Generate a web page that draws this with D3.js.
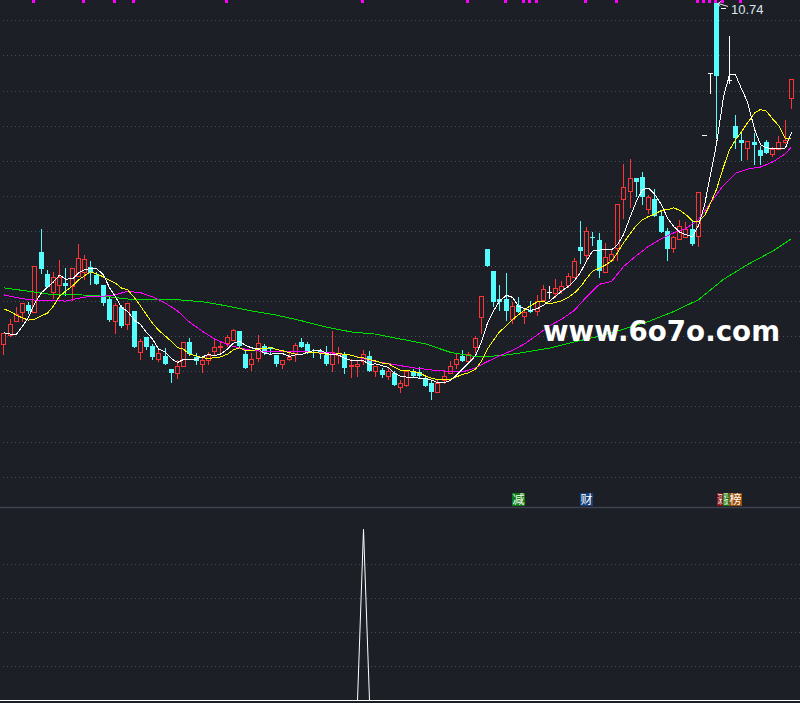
<!DOCTYPE html>
<html><head><meta charset="utf-8">
<script src="https://cdn.jsdelivr.net/npm/d3@7"></script>
<style>html,body{margin:0;padding:0;background:#1c1f26;overflow:hidden}</style>
</head><body><svg id="c" width="800" height="703"></svg>
<script>
// ---------------- data ----------------
const opens = [
5.89,6.02,6.21,6.35,6.44,6.34,7.20,6.89,6.63,6.73,
6.76,6.72,6.86,6.91,6.99,6.87,6.73,6.53,6.21,6.42,
6.17,6.36,5.77,5.99,5.86,5.68,5.72,5.53,5.47,5.57,
5.92,5.70,5.61,5.66,5.79,5.84,5.90,5.94,6.07,5.74,
5.61,5.69,5.86,5.84,5.73,5.60,5.67,5.76,5.92,5.89,
5.78,5.79,5.73,5.60,5.73,5.73,5.57,5.57,5.65,5.72,
5.51,5.52,5.44,5.48,5.28,5.30,5.50,5.49,5.40,5.34,
5.20,5.38,5.48,5.60,5.72,5.64,5.85,6.28,7.24,6.93,
6.53,6.53,6.24,6.44,6.29,6.38,6.36,6.52,6.63,6.62,
6.66,6.73,6.85,7.27,7.16,7.42,7.37,6.92,7.09,7.26,
7.96,8.07,8.25,8.27,7.81,7.95,7.71,7.50,7.25,7.38,
7.41,7.53,7.43,8.86,9.75,10.74,10.68,9.65,8.99,8.80,
8.68,8.76,8.65,8.77,8.60,8.67,8.77,9.40];
const highs = [
6.05,6.25,6.41,6.47,6.49,7.00,7.53,6.94,6.91,7.08,
6.97,6.97,7.31,7.16,7.07,6.92,6.73,6.59,6.47,6.44,
6.48,6.36,5.96,5.99,5.89,5.82,5.83,5.53,5.66,5.92,
5.97,5.76,5.72,5.77,5.94,5.92,6.02,6.10,6.07,5.82,
5.76,6.02,5.89,5.84,5.73,5.66,5.78,5.91,5.97,5.92,
5.82,5.82,5.86,6.07,5.84,5.78,5.67,5.65,5.80,5.79,
5.58,5.54,5.54,5.50,5.38,5.51,5.53,5.56,5.45,5.38,
5.39,5.51,5.65,5.74,5.80,5.77,6.00,6.57,7.24,6.93,
6.73,6.90,6.49,6.56,6.39,6.50,6.59,6.73,6.71,6.81,
6.78,6.90,7.11,7.64,7.56,7.48,7.47,7.33,7.24,7.88,
8.45,8.52,8.25,8.34,8.01,8.10,7.80,7.54,7.43,7.65,
7.62,7.64,8.05,8.86,9.75,10.74,10.68,10.28,9.15,8.89,
8.78,8.89,8.71,8.80,8.70,8.85,9.08,9.67];
const lows = [
5.74,6.00,6.21,6.22,6.33,6.34,6.90,6.70,6.55,6.56,
6.59,6.51,6.86,6.81,6.75,6.75,6.44,6.21,6.05,6.13,
6.10,5.84,5.68,5.82,5.67,5.64,5.60,5.35,5.40,5.57,
5.73,5.61,5.49,5.61,5.73,5.78,5.86,5.94,5.86,5.55,
5.52,5.65,5.75,5.75,5.58,5.55,5.66,5.65,5.85,5.76,
5.70,5.69,5.59,5.51,5.62,5.48,5.42,5.43,5.60,5.51,
5.44,5.42,5.39,5.30,5.21,5.29,5.42,5.40,5.29,5.11,
5.20,5.34,5.48,5.54,5.65,5.64,5.78,6.04,7.00,6.43,
6.37,6.23,6.19,6.35,6.19,6.35,6.30,6.52,6.55,6.56,
6.61,6.70,6.85,7.04,7.10,7.30,6.85,6.92,7.09,7.09,
7.68,7.84,8.00,7.89,7.75,7.71,7.49,7.09,7.20,7.38,
7.41,7.30,7.28,8.86,9.47,8.83,10.68,9.61,8.68,8.51,
8.52,8.45,8.46,8.61,8.56,8.67,8.75,9.25];
const closes = [
6.04,6.18,6.31,6.47,6.36,7.00,6.96,6.70,6.85,6.84,
6.72,6.97,7.12,7.10,6.90,6.75,6.48,6.23,6.44,6.15,
6.48,5.84,5.93,5.85,5.71,5.76,5.60,5.48,5.58,5.92,
5.74,5.64,5.66,5.73,5.84,5.86,5.99,6.09,5.86,5.55,
5.68,5.91,5.76,5.82,5.61,5.66,5.71,5.87,5.85,5.78,
5.76,5.76,5.61,5.77,5.76,5.54,5.59,5.61,5.74,5.51,
5.58,5.45,5.50,5.30,5.33,5.51,5.43,5.43,5.29,5.21,
5.34,5.44,5.57,5.67,5.65,5.75,5.97,6.57,7.00,6.49,
6.49,6.36,6.43,6.35,6.34,6.35,6.50,6.67,6.63,6.69,
6.71,6.86,7.07,7.22,7.50,7.41,6.93,7.13,7.17,7.88,
8.12,8.26,8.19,7.99,7.98,7.71,7.49,7.24,7.41,7.57,
7.53,7.32,8.05,8.86,9.75,9.71,10.68,9.65,8.83,8.75,
8.78,8.73,8.56,8.61,8.67,8.77,8.80,9.67];

// MA values before enough closes are visible
const ma5Head  = [6.05,6.03,6.03,6.14];
const ma10Head = [6.39,6.35,6.30,6.26,6.23,6.24,6.29,6.33,6.43];

// magenta average line
const ma20Index = [0,2,4,6,8,10,12,14,16,18,20,22,24,26,28,30,32,34,36,38,40,42,44,46,48,50,52,54,56,58,60,62,64,66,68,70,72,74,76,78,80,82,84,86,88,90,92,94,96,98,100,102,104,106,108,110,112,114,116,118,120,122,124,126,127];
const ma20Values = [6.59,6.55,6.52,6.51,6.51,6.50,6.54,6.57,6.57,6.59,6.64,6.62,6.56,6.47,6.36,6.20,6.07,5.96,5.88,5.83,5.80,5.78,5.78,5.78,5.78,5.77,5.77,5.75,5.73,5.68,5.64,5.61,5.58,5.55,5.53,5.51,5.50,5.49,5.55,5.64,5.72,5.80,5.89,6.02,6.15,6.24,6.37,6.56,6.74,6.78,6.99,7.15,7.28,7.39,7.47,7.53,7.66,7.90,8.15,8.32,8.38,8.41,8.48,8.60,8.70];

// green long average line
const ma60Index = [0,4,8,12,16,20,24,28,32,36,40,44,48,52,56,60,64,68,72,76,80,84,88,92,96,100,104,108,112,116,120,124,127];
const ma60Values = [6.69,6.64,6.59,6.59,6.57,6.53,6.52,6.52,6.49,6.43,6.36,6.30,6.22,6.13,6.06,6.03,5.96,5.89,5.77,5.71,5.72,5.77,5.83,5.92,6.00,6.10,6.21,6.35,6.52,6.81,7.02,7.21,7.39];

// grid prices
const gridPrices = [10.5,10,9.5,9,8.5,8,7.5,7,6.5,6,5.5,5,4.5,4];
const lowerGrid = [20,40,60,80];

// top signal marks (candle indices)
const topMarks = [5,13,18,21,36,58,75,81,84,85,86,94,99,112,113,114,115,116,119];

// lower indicator
const lowerValues = [
0,0,0,0,0,0,0,0,0,0,0,0,0,0,0,0,
0,0,0,0,0,0,0,0,0,0,0,0,0,0,0,0,
0,0,0,0,0,0,0,0,0,0,0,0,0,0,0,0,
0,0,0,0,0,0,0,0,0,0,100,0,0,0,0,0,
0,0,0,0,0,0,0,0,0,0,0,0,0,0,0,0,
0,0,0,0,0,0,0,0,0,0,0,0,0,0,0,0,
0,0,0,0,0,0,0,0,0,0,0,0,0,0,0,0,
0,0,0,0,0,0,0,0,0,0,0,0,0,0,0,0];

// bottom text signals
const signalIdx   = [83, 94, 116, 117, 118];
const signalText  = ["减","财","深","股","榜"];
const signalColor = ["#0b7a12","#143f78","#8a0c0c","#0b7a12","#9a4e0c"];

const maxLabel = "10.74";

// ---------------- drawing ----------------
const W = 800, H = 703;
const svg = d3.select("#c");
svg.append("rect").attr("width", W).attr("height", H).attr("fill", "#1c1f26");

const n = closes.length;
const x = d3.scaleBand().domain(d3.range(n)).range([0.2, 0.2 + n * 6.2]).padding(0);
const cx = i => Math.round(x(i) + x.bandwidth() / 2);
const y = d3.scaleLinear().domain([4, 10.5]).range([476.6, 20.3]);
const y2 = d3.scaleLinear().domain([0, 100]).range([700.5, 529.3]);

const RED = "#ff3434", CYAN = "#54fcfc", WHITE = "#ffffff";

// grid
const grid = svg.append("g").attr("stroke", "#4a4f5b").attr("stroke-dasharray", "1,3");
gridPrices.forEach(p => {
  const yy = Math.round(y(p)) + 0.5;
  grid.append("line").attr("x1", 3).attr("x2", W).attr("y1", yy).attr("y2", yy);
});
lowerGrid.forEach(v => {
  const yy = Math.round(y2(v)) + 0.5;
  grid.append("line").attr("x1", 3).attr("x2", W).attr("y1", yy).attr("y2", yy);
});
svg.append("line").attr("x1", 0).attr("x2", W).attr("y1", 507.5).attr("y2", 507.5)
  .attr("stroke", "#3d424e").attr("stroke-width", 1.5);

// candles
const cg = svg.append("g").attr("shape-rendering", "crispEdges");
for (let i = 0; i < n; i++) {
  const o = opens[i], c = closes[i], h = highs[i], l = lows[i];
  const xc = cx(i);
  const yh = Math.round(y(h)), yl = Math.round(y(l));
  const yt = Math.round(y(Math.max(o, c))), yb = Math.round(y(Math.min(o, c)));
  if (c > o) {
    if (yh < yt) cg.append("line").attr("x1", xc + 0.5).attr("x2", xc + 0.5).attr("y1", yh).attr("y2", yt).attr("stroke", RED);
    if (yl > yb) cg.append("line").attr("x1", xc + 0.5).attr("x2", xc + 0.5).attr("y1", yb).attr("y2", yl + 1).attr("stroke", RED);
    cg.append("rect").attr("x", xc - 1.5).attr("y", yt + 0.5).attr("width", 4).attr("height", Math.max(1, yb - yt))
      .attr("fill", "#1c1f26").attr("stroke", RED);
  } else if (c < o) {
    cg.append("line").attr("x1", xc + 0.5).attr("x2", xc + 0.5).attr("y1", yh).attr("y2", yl + 1).attr("stroke", CYAN);
    cg.append("rect").attr("x", xc - 2).attr("y", yt).attr("width", 5).attr("height", Math.max(1, yb - yt)).attr("fill", CYAN);
  } else {
    cg.append("line").attr("x1", xc + 0.5).attr("x2", xc + 0.5).attr("y1", yh).attr("y2", yl + 1).attr("stroke", WHITE);
    cg.append("line").attr("x1", xc - 2).attr("x2", xc + 3).attr("y1", yt + 0.5).attr("y2", yt + 0.5).attr("stroke", WHITE);
  }
}

// moving averages
function movingAvg(arr, k, head) {
  return arr.map((_, i) => i < k - 1 ? head[i] : d3.mean(arr.slice(i - k + 1, i + 1)));
}
const ma5 = movingAvg(closes, 5, ma5Head);
const ma10 = movingAvg(closes, 10, ma10Head);

const line = d3.line().x(d => cx(d[0]) + 0.5).y(d => y(d[1]));
const mg = svg.append("g").attr("fill", "none").attr("stroke-width", 1).attr("shape-rendering", "crispEdges");
mg.append("path").attr("d", line(ma60Index.map((k, j) => [k, ma60Values[j]]))).attr("stroke", "#00e000");
mg.append("path").attr("d", line(ma20Index.map((k, j) => [k, ma20Values[j]]))).attr("stroke", "#ff00ff");
mg.append("path").attr("d", line(ma10.map((v, i) => [i, v]))).attr("stroke", "#ffff00");
mg.append("path").attr("d", line(ma5.map((v, i) => [i, v]))).attr("stroke", "#ffffff");

// top marks
svg.append("g").selectAll("rect").data(topMarks).join("rect")
  .attr("x", d => cx(d) - 2).attr("y", 0).attr("width", 3).attr("height", 3).attr("fill", "#ff00ff");

// max label with arrow
const iMax = d3.maxIndex(highs);
const mxX = cx(iMax), mxY = y(highs[iMax]);
svg.append("path")
  .attr("d", `M${mxX + 12},${mxY + 3} L${mxX + 2},${mxY} M${mxX + 2},${mxY} L${mxX + 5},${mxY - 2} M${mxX + 2},${mxY} L${mxX + 4},${mxY + 3}`)
  .attr("stroke", "#e8e8e8").attr("fill", "none");
svg.append("text").attr("x", mxX + 15).attr("y", mxY + 11).text(maxLabel)
  .attr("fill", "#dfe3ea").attr("font-family", "Liberation Sans, Arial, sans-serif").attr("font-size", 13);

// watermark
svg.append("text").attr("x", 543).attr("y", 341).text("www.6o7o.com")
  .attr("fill", "#ffffff").attr("font-family", "DejaVu Sans").attr("font-weight", "bold")
  .attr("font-size", 28).attr("textLength", 237).attr("lengthAdjust", "spacingAndGlyphs");

// signal labels (later ones cover part of earlier ones, as in the source)
const sg = svg.append("g");
signalIdx.forEach((k, j) => {
  const xx = cx(k) - 6;
  const nextX = (j + 1 < signalIdx.length) ? cx(signalIdx[j + 1]) - 6 : Infinity;
  const visW = Math.min(13, nextX - xx);
  sg.append("rect").attr("x", xx).attr("y", 493).attr("width", visW).attr("height", 13).attr("fill", signalColor[j]);
  const t = sg.append("text").text(signalText[j])
    .attr("fill", "#ffffff").attr("font-family", "Noto Sans CJK SC").attr("font-size", 12);
  if (visW < 13) {
    // only a narrow strip of this label stays visible: squeeze the glyph into it
    t.attr("x", 0).attr("y", 0)
     .attr("transform", `translate(${xx + 0.5},504) scale(${((visW - 1) / 12).toFixed(3)},1)`);
  } else {
    t.attr("x", xx + 6.5).attr("y", 504).attr("text-anchor", "middle");
  }
});

// lower panel line
svg.append("path").attr("d", d3.line().x((d, i) => cx(i) + 0.5).y(d => y2(d))(lowerValues))
  .attr("fill", "none").attr("stroke", "#ffffff").attr("stroke-width", 1);
svg.append("line").attr("x1", 0).attr("x2", W).attr("y1", y2(0)).attr("y2", y2(0)).attr("stroke", "#ffffff");
</script></body></html>
